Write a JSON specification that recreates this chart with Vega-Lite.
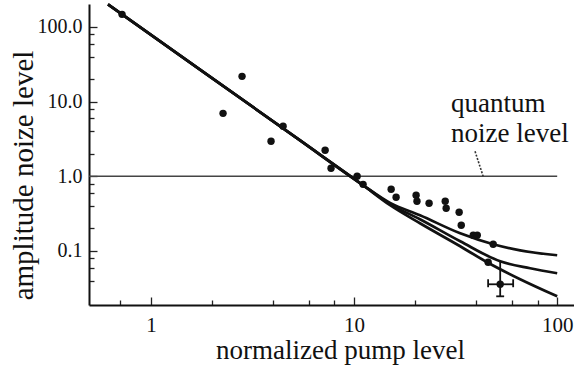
{
  "$schema": "https://vega.github.io/schema/vega-lite/v6.json",
  "width": 485,
  "height": 301,
  "autosize": {"type": "none"},
  "padding": {"left": 89, "top": 4, "right": 0, "bottom": 65},
  "background": "white",
  "config": {"font": "Liberation Serif", "view": {"stroke": null}},
  "datasets": {
    "points": [
      {"x": 0.72, "y": 147.5}, {"x": 2.263, "y": 6.97}, {"x": 2.807, "y": 21.8},
      {"x": 4.47, "y": 4.67}, {"x": 3.9, "y": 2.94}, {"x": 7.2, "y": 2.23},
      {"x": 7.7, "y": 1.28}, {"x": 10.35, "y": 1.0}, {"x": 11.07, "y": 0.78},
      {"x": 15.22, "y": 0.67}, {"x": 16.1, "y": 0.523}, {"x": 20.2, "y": 0.557},
      {"x": 20.4, "y": 0.463}, {"x": 23.4, "y": 0.435}, {"x": 28.1, "y": 0.463},
      {"x": 28.4, "y": 0.373}, {"x": 32.9, "y": 0.33}, {"x": 33.7, "y": 0.221},
      {"x": 38.6, "y": 0.162}, {"x": 40.4, "y": 0.162}, {"x": 48.4, "y": 0.123},
      {"x": 45.7, "y": 0.0706}, {"x": 52.4, "y": 0.0358}
    ],
    "curves": [
      {"s": "a", "x": 0.614, "y": 200.7}, {"s": "a", "x": 1.743, "y": 26.9}, {"s": "a", "x": 5.42, "y": 3.02}, {"s": "a", "x": 11.0, "y": 0.77}, {"s": "a", "x": 15.04, "y": 0.44},
      {"s": "a", "x": 21.1, "y": 0.301}, {"s": "a", "x": 33.3, "y": 0.1725}, {"s": "a", "x": 48.4, "y": 0.123},
      {"s": "a", "x": 65.7, "y": 0.102}, {"s": "a", "x": 100, "y": 0.0876},
      {"s": "b", "x": 0.614, "y": 200.7}, {"s": "b", "x": 1.743, "y": 26.9}, {"s": "b", "x": 5.42, "y": 3.02}, {"s": "b", "x": 11.0, "y": 0.77}, {"s": "b", "x": 15.04, "y": 0.425},
      {"s": "b", "x": 21.1, "y": 0.266}, {"s": "b", "x": 33.3, "y": 0.1349}, {"s": "b", "x": 52.4, "y": 0.0728},
      {"s": "b", "x": 73.6, "y": 0.0587}, {"s": "b", "x": 100, "y": 0.0503},
      {"s": "c", "x": 0.614, "y": 200.7}, {"s": "c", "x": 1.743, "y": 26.9}, {"s": "c", "x": 5.42, "y": 3.02}, {"s": "c", "x": 11.0, "y": 0.77}, {"s": "c", "x": 15.04, "y": 0.41},
      {"s": "c", "x": 21.1, "y": 0.235}, {"s": "c", "x": 33.3, "y": 0.1156}, {"s": "c", "x": 45.2, "y": 0.0706},
      {"s": "c", "x": 65.7, "y": 0.0418}, {"s": "c", "x": 100, "y": 0.0247}
    ],
    "hline": [{"x": 0.495, "x2": 100, "y": 1, "y2": 1}],
    "err": [
      {"x": 52.4, "x2": 52.4, "y": 0.0728, "y2": 0.0247},
      {"x": 45.7, "x2": 60.7, "y": 0.0358, "y2": 0.0358},
      {"x": 50.1, "x2": 54.8, "y": 0.0247, "y2": 0.0247},
      {"x": 45.7, "x2": 45.7, "y": 0.0418, "y2": 0.0327},
      {"x": 60.7, "x2": 60.7, "y": 0.0418, "y2": 0.0327}
    ],
    "pointer": [{"x": 39.4, "x2": 43.2, "y": 2.16, "y2": 1.0}],
    "labels": [
      {"x": 30.0, "y": 7.19, "t": "quantum"},
      {"x": 30.0, "y": 2.85, "t": "noize level"}
    ]
  },
  "encoding": {
    "x": {
      "field": "x", "type": "quantitative",
      "scale": {"type": "log", "domain": [0.495, 121], "nice": false},
      "axis": {
        "orient": "bottom",
        "values": [0.7, 1, 2, 4, 6, 8, 10, 20, 40, 60, 80, 100],
        "labelExpr": "datum.value == 1 ? '1' : datum.value == 10 ? '10' : datum.value == 100 ? '100' : ''",
        "labelOverlap": false, "labelFlush": false, "labelBound": false,
        "labelFontSize": 21, "labelColor": "#111", "labelPadding": 17,
        "tickSize": {"condition": {"test": "datum.value == 1 || datum.value == 10 || datum.value == 100", "value": -8}, "value": -5},
        "tickColor": "#222", "tickWidth": 1.3,
        "domainColor": "#111", "domainWidth": 2, "grid": false,
        "title": "normalized pump level", "titleFontSize": 27, "titleFontWeight": "normal",
        "titleColor": "#111", "titleX": 251, "titleY": 53, "titleBaseline": "alphabetic"
      }
    },
    "y": {
      "field": "y", "type": "quantitative",
      "scale": {"type": "log", "domain": [0.0189, 203], "nice": false},
      "axis": {
        "orient": "left",
        "values": [0.04, 0.06, 0.08, 0.1, 0.2, 0.4, 0.6, 0.8, 1, 2, 4, 6, 8, 10, 20, 40, 60, 80, 100],
        "labelExpr": "datum.value == 0.1 ? '0.1' : datum.value == 1 ? '1.0' : datum.value == 10 ? '10.0' : datum.value == 100 ? '100.0' : ''",
        "labelOverlap": false, "labelFlush": false, "labelBound": false,
        "labelFontSize": 20, "labelColor": "#111", "labelPadding": 15,
        "tickSize": {"condition": {"test": "datum.value == 0.1 || datum.value == 1 || datum.value == 10 || datum.value == 100", "value": -8}, "value": -5},
        "tickColor": "#222", "tickWidth": 1.3,
        "domainColor": "#111", "domainWidth": 2, "grid": false,
        "title": "amplitude noize level", "titleFontSize": 29, "titleFontWeight": "normal",
        "titleColor": "#111", "titleX": -57, "titleY": 171, "titleBaseline": "alphabetic", "titleAngle": 270
      }
    }
  },
  "layer": [
    {
      "data": {"name": "hline"},
      "mark": {"type": "rule", "color": "#444", "strokeWidth": 1.6},
      "encoding": {"x2": {"field": "x2"}, "y2": {"field": "y2"}}
    },
    {
      "data": {"name": "pointer"},
      "mark": {"type": "rule", "color": "#333", "strokeWidth": 1.6, "strokeDash": [2, 1.5]},
      "encoding": {"x2": {"field": "x2"}, "y2": {"field": "y2"}}
    },
    {
      "data": {"name": "curves"},
      "mark": {"type": "line", "color": "#111", "strokeWidth": 2.7, "interpolate": "monotone"},
      "encoding": {"detail": {"field": "s", "type": "nominal"}}
    },
    {
      "data": {"name": "err"},
      "mark": {"type": "rule", "color": "#111", "strokeWidth": 1.8},
      "encoding": {"x2": {"field": "x2"}, "y2": {"field": "y2"}}
    },
    {
      "data": {"name": "points"},
      "mark": {"type": "circle", "color": "#111", "opacity": 1, "size": 55}
    },
    {
      "data": {"name": "labels"},
      "mark": {"type": "text", "align": "left", "baseline": "alphabetic", "fontSize": 27, "color": "#111"},
      "encoding": {"text": {"field": "t"}}
    }
  ]
}
